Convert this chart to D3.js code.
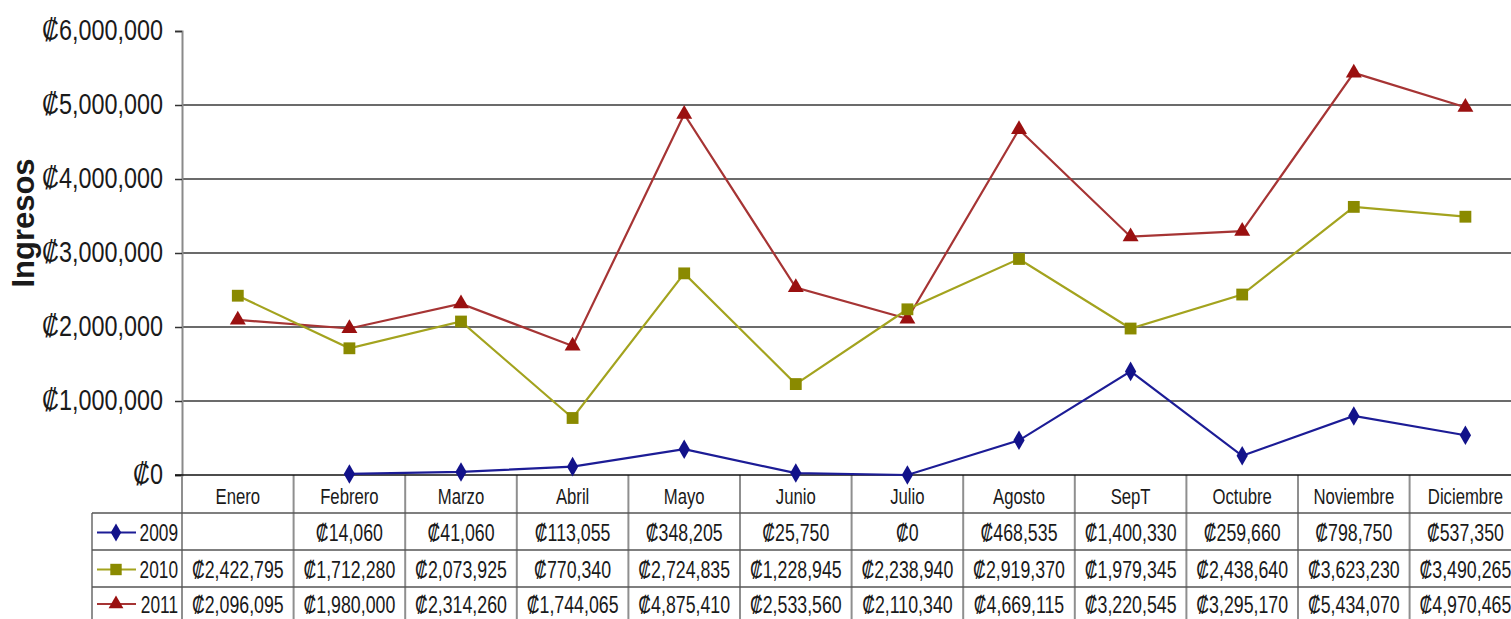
<!DOCTYPE html>
<html>
<head>
<meta charset="utf-8">
<script src="https://cdn.jsdelivr.net/npm/d3@7"></script>
<style>
  body { margin: 0; background: #fff; }
  svg { display: block; }
  text { font-family: "Liberation Sans", Arial, sans-serif; fill: #1a1a1a; }
</style>
</head>
<body>
<div class="chart"></div>
<script>
// Months (categories)
const months = ["Enero", "Febrero", "Marzo", "Abril", "Mayo", "Junio", "Julio",
  "Agosto", "SepT", "Octubre", "Noviembre", "Diciembre"];

// Series values (null = no value)
const years = ["2009", "2010", "2011"];
const values2009 = [null, 14060, 41060, 113055, 348205, 25750, 0, 468535, 1400330, 259660, 798750, 537350];
const values2010 = [2422795, 1712280, 2073925, 770340, 2724835, 1228945, 2238940, 2919370, 1979345, 2438640, 3623230, 3490265];
const values2011 = [2096095, 1980000, 2314260, 1744065, 4875410, 2533560, 2110340, 4669115, 3220545, 3295170, 5434070, 4970465];

// Y axis ticks
const yTicks = [0, 1000000, 2000000, 3000000, 4000000, 5000000, 6000000];

const series = [
  { name: years[0], values: values2009, line: "#1c1c96", fill: "#12128a", symbol: d3.symbolDiamond },
  { name: years[1], values: values2010, line: "#a3a31e", fill: "#8a8a00", symbol: d3.symbolSquare },
  { name: years[2], values: values2011, line: "#a63434", fill: "#9a1010", symbol: d3.symbolTriangle }
];

const W = 1511, H = 619;
const plotLeft = 182, colW = 111.6;
const plotTop = 31, zeroY = 475;
const rowH = [38, 37, 37, 32]; // header, 2009, 2010, 2011 (last one cut by the edge)

const svg = d3.select(".chart").append("svg")
  .attr("width", W)
  .attr("height", H);

const x = d3.scaleBand().domain(months).range([plotLeft, plotLeft + colW * months.length]);
const y = d3.scaleLinear().domain([0, 6000000]).range([zeroY, plotTop]);

const money = v => "\u20A1" + d3.format(",")(v);

// condensed text helper
function ctext(g, tx, ty, str, size, sx, anchor) {
  return g.append("g")
    .attr("transform", `translate(${tx},${ty}) scale(${sx},1)`)
    .append("text")
    .attr("text-anchor", anchor || "middle")
    .attr("dominant-baseline", "central")
    .style("font-size", size + "px")
    .text(str);
}

// gridlines
svg.append("g")
  .selectAll("line")
  .data(yTicks.filter(d => d > 0 && d < 6000000))
  .join("line")
  .attr("x1", plotLeft).attr("x2", W)
  .attr("y1", d => y(d)).attr("y2", d => y(d))
  .attr("stroke", "#3a3a3a").attr("stroke-width", 1.5);

// y axis
const yAxis = svg.append("g")
  .attr("transform", `translate(${plotLeft},0)`)
  .call(d3.axisLeft(y).tickValues(yTicks).tickSize(7).tickFormat(""));
yAxis.select(".domain").attr("stroke", "#8a8a8a").attr("stroke-width", 2);
yAxis.selectAll(".tick line").attr("stroke", "#333").attr("stroke-width", 1.5);

const yLab = svg.append("g");
yTicks.forEach(t => ctext(yLab, 163, y(t) - 1, money(t), 30, 0.78, "end"));

// axis title
svg.append("text")
  .attr("transform", `translate(23,${223}) rotate(-90)`)
  .attr("text-anchor", "middle")
  .attr("dominant-baseline", "central")
  .style("font-size", "31px")
  .style("font-weight", "bold")
  .text("Ingresos");

// data table
const rowTop = [zeroY];
rowH.forEach((h, i) => rowTop.push(rowTop[i] + h));
const legendLeft = 92;
const table = svg.append("g");

// vertical column lines
table.selectAll("line.col")
  .data(d3.range(months.length + 1))
  .join("line")
  .attr("class", "col")
  .attr("x1", i => plotLeft + i * colW).attr("x2", i => plotLeft + i * colW)
  .attr("y1", zeroY).attr("y2", H)
  .attr("stroke", "#8f8f8f").attr("stroke-width", 2);

// legend cell left border
table.append("line")
  .attr("x1", legendLeft).attr("x2", legendLeft)
  .attr("y1", rowTop[1]).attr("y2", H)
  .attr("stroke", "#8f8f8f").attr("stroke-width", 2);

// horizontal row lines
table.selectAll("line.row")
  .data([1, 2, 3])
  .join("line")
  .attr("class", "row")
  .attr("x1", legendLeft).attr("x2", W)
  .attr("y1", i => rowTop[i]).attr("y2", i => rowTop[i])
  .attr("stroke", "#555").attr("stroke-width", 1.5);

// header labels
months.forEach(m => ctext(table, x(m) + colW / 2, (rowTop[0] + rowTop[1]) / 2 + 2, m, 22, 0.76));

// series rows
const sym = d3.symbol();
series.forEach((s, i) => {
  const cy = (rowTop[i + 1] + rowTop[i + 2]) / 2 + 1;
  table.append("line")
    .attr("x1", 97).attr("x2", 136)
    .attr("y1", cy).attr("y2", cy)
    .attr("stroke", s.line).attr("stroke-width", 2);
  table.append("path")
    .attr("d", sym.type(s.symbol).size(s.symbol === d3.symbolSquare ? 130 : 95)())
    .attr("transform", `translate(116,${cy})`)
    .attr("fill", s.fill);
  ctext(table, 178, cy, s.name, 24, 0.72, "end");
  s.values.forEach((v, j) => {
    if (v === null) return;
    ctext(table, x(months[j]) + colW / 2, cy, money(v), 24, 0.74);
  });
});

// zero axis line
svg.append("line")
  .attr("x1", plotLeft - 7).attr("x2", W)
  .attr("y1", zeroY).attr("y2", zeroY)
  .attr("stroke", "#111").attr("stroke-width", 1.5);

// lines and markers
const line = d3.line()
  .defined(d => d.v !== null)
  .x(d => x(d.m) + colW / 2)
  .y(d => y(d.v));

series.slice().reverse().forEach(s => {
  const pts = months.map((m, j) => ({ m: m, v: s.values[j] }));
  svg.append("path")
    .datum(pts)
    .attr("d", line)
    .attr("fill", "none")
    .attr("stroke", s.line)
    .attr("stroke-width", 2.2);
  svg.append("g")
    .selectAll("path")
    .data(pts.filter(d => d.v !== null))
    .join("path")
    .attr("d", sym.type(s.symbol).size(s.symbol === d3.symbolSquare ? 140 : 110)())
    .attr("transform", d => `translate(${x(d.m) + colW / 2},${y(d.v)})`)
    .attr("fill", s.fill);
});
</script>
</body>
</html>
